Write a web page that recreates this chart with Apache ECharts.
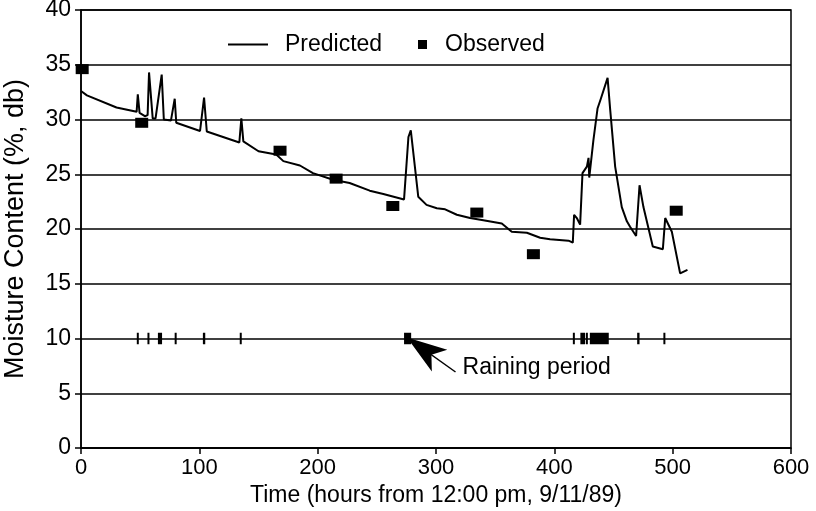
<!DOCTYPE html>
<html>
<head>
<meta charset="utf-8">
<script src="https://cdn.jsdelivr.net/npm/echarts@6/dist/echarts.min.js"></script>
<style>
html,body{margin:0;padding:0;background:#fff;}
#chart{width:816px;height:511px;}
</style>
</head>
<body>
<div id="chart"></div>
<script>
// Predicted moisture content (time in hours, value %)
var predT = [0, 5, 30, 47, 48, 49.5, 54, 56.3, 57.5, 60.6, 63, 68.2, 70, 76, 79.2, 80.5, 100.6, 104, 106.3, 133.8, 135.5, 137.2, 150, 165, 171, 185, 196, 213, 227, 244, 255.5, 273, 276.7, 278.7, 285, 292, 300.7, 307.7, 317.6, 328.8, 340, 355.6, 364, 376.8, 388, 396.4, 412, 415.6, 416.7, 419, 421.8, 423.8, 427.5, 428.9, 429.5, 433, 436.5, 439.3, 445, 447.2, 451.4, 457, 461.3, 464, 469.1, 472, 475.3, 483.2, 491.7, 493.7, 499.3, 506.3, 512.5];
var predV = [32.6, 32.2, 31.1, 30.7, 32.3, 30.6, 30.3, 30.4, 34.3, 30.1, 30.1, 34.1, 30.0, 29.9, 31.9, 29.7, 28.95, 32.0, 28.9, 27.9, 30.1, 28.0, 27.1, 26.8, 26.2, 25.8, 25.1, 24.5, 24.2, 23.5, 23.2, 22.7, 28.4, 29.0, 22.95, 22.2, 21.9, 21.8, 21.3, 21.0, 20.8, 20.5, 19.75, 19.66, 19.2, 19.06, 18.93, 18.75, 21.3, 21.0, 20.4, 25.1, 25.7, 26.5, 24.7, 28.1, 31.0, 31.9, 33.8, 30.9, 25.7, 22.0, 20.7, 20.2, 19.36, 24.0, 22.0, 18.4, 18.15, 21.0, 19.75, 15.95, 16.26];

// Observed moisture content
var obsT = [1, 51.3, 168.2, 215.6, 263.5, 334.5, 382.3, 503];
var obsV = [34.6, 29.7, 27.15, 24.6, 22.1, 21.5, 17.7, 21.67];

// Raining periods (hours), drawn at level 10
var rainStart = [48, 57, 65, 80, 103, 135, 273, 416.5, 422, 427.5, 430, 470, 493];
var rainEnd   = [48, 58.5, 68.5, 80, 105, 135, 279, 416.5, 426, 427.5, 446, 472, 493];
var rainLevel = 10;

// Annotation
var annoText = 'Raining period';
var arrowFrom = [316.5, 6.94];
var arrowTo = [275.5, 10.1];
var textAt = [322, 7.3];

var xTicks = [0, 100, 200, 300, 400, 500, 600];
var yTicks = [0, 5, 10, 15, 20, 25, 30, 35, 40];

var FONT = "'Liberation Sans', Arial, Helvetica, sans-serif";

var predData = predT.map(function (t, i) { return [t, predV[i]]; });
var obsData = obsT.map(function (t, i) { return [t, obsV[i]]; });
var rainData = rainStart.map(function (s, i) { return [s, rainEnd[i], rainLevel]; });

var chart = echarts.init(document.getElementById('chart'), null, {renderer: 'canvas'});
chart.setOption({
  animation: false,
  backgroundColor: '#fff',
  textStyle: {fontFamily: FONT, color: '#000'},
  grid: {left: 81, right: 25, top: 10, bottom: 63, show: true, borderColor: '#000', borderWidth: 1.5,
         containLabel: false, outerBoundsMode: 'none'},
  legend: [
    {
      data: [{name: 'Predicted', icon: 'rect'}],
      left: 223, top: 28, itemWidth: 40, itemHeight: 2,
      itemStyle: {color: '#000'},
      textStyle: {fontSize: 23, color: '#000', fontFamily: FONT, padding: [0, 0, 0, 12]},
      selectedMode: false
    },
    {
      data: [{name: 'Observed', icon: 'rect'}],
      left: 413, top: 28, itemWidth: 9, itemHeight: 9,
      itemStyle: {color: '#000'},
      textStyle: {fontSize: 23, color: '#000', fontFamily: FONT, padding: [0, 0, 0, 13]},
      selectedMode: false
    }
  ],
  xAxis: {
    type: 'value', min: xTicks[0], max: xTicks[xTicks.length - 1], interval: 100,
    name: 'Time (hours from 12:00 pm, 9/11/89)', nameLocation: 'middle', nameGap: 33,
    nameTextStyle: {fontSize: 23, color: '#000', fontFamily: FONT},
    axisLine: {show: true, onZero: false, lineStyle: {color: '#000', width: 1.5}},
    axisTick: {show: true, inside: false, length: 6, lineStyle: {color: '#000', width: 1.5}},
    axisLabel: {fontSize: 22, color: '#000', fontFamily: FONT, margin: 9},
    splitLine: {show: false}
  },
  yAxis: {
    type: 'value', min: yTicks[0], max: yTicks[yTicks.length - 1], interval: 5,
    name: 'Moisture Content (%, db)', nameLocation: 'middle', nameGap: 52, nameRotate: 90,
    nameTextStyle: {fontSize: 27, color: '#000', fontFamily: FONT},
    axisLine: {show: true, lineStyle: {color: '#000', width: 1.5}},
    axisTick: {show: true, inside: false, length: 6, lineStyle: {color: '#000', width: 1.5}},
    axisLabel: {fontSize: 23, color: '#000', fontFamily: FONT, margin: 10},
    splitLine: {show: true, lineStyle: {color: '#000', width: 1.5}}
  },
  series: [
    {
      name: 'Predicted', type: 'line', data: predData,
      symbol: 'none', smooth: false,
      lineStyle: {color: '#000', width: 2},
      itemStyle: {color: '#000'},
      z: 3,
      markLine: {
        silent: true, animation: false,
        symbol: ['none', 'arrow'], symbolSize: [20, 40],
        label: {show: false},
        lineStyle: {color: '#000', width: 1.5, type: 'solid'},
        data: [[{coord: arrowFrom}, {coord: arrowTo}]]
      },
      markPoint: {
        silent: true, animation: false,
        symbol: 'circle', symbolSize: 1,
        itemStyle: {color: 'rgba(0,0,0,0)'},
        label: {show: true, position: 'right', distance: 0, formatter: annoText,
                fontSize: 23, color: '#000', fontFamily: FONT},
        data: [{coord: textAt}]
      }
    },
    {
      name: 'Observed', type: 'scatter', data: obsData,
      symbol: 'rect', symbolSize: [13, 10],
      itemStyle: {color: '#000', opacity: 1},
      z: 4
    },
    {
      name: 'Rain', type: 'custom', data: rainData,
      encode: {x: [0, 1], y: 2},
      z: 4,
      renderItem: function (params, api) {
        var s = api.coord([api.value(0), api.value(2)]);
        var e = api.coord([api.value(1), api.value(2)]);
        var h = api.size([0, 1.05])[1];
        var w = Math.max(e[0] - s[0], 2);
        var x = (e[0] - s[0]) < 2 ? s[0] - 1 : s[0];
        return {type: 'rect', shape: {x: x, y: s[1] - h / 2, width: w, height: h},
                style: {fill: '#000'}};
      }
    }
  ]
});
</script>
</body>
</html>
